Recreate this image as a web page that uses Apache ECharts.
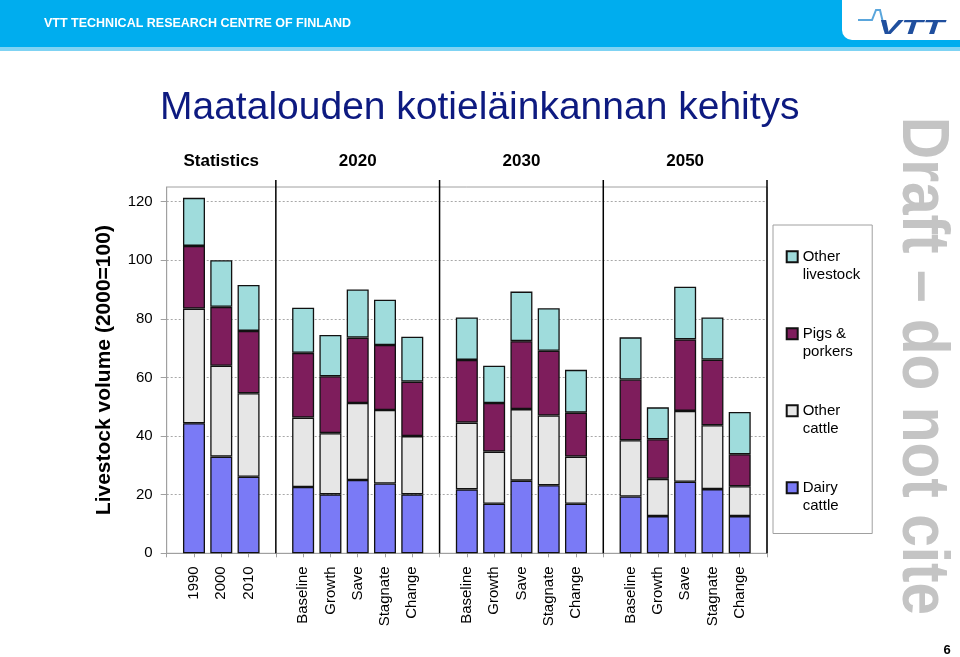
<!DOCTYPE html>
<html><head><meta charset="utf-8">
<script src="https://cdn.jsdelivr.net/npm/echarts@6/dist/echarts.min.js"></script>
<style>html,body{margin:0;padding:0;background:#fff}#c{width:960px;height:657px}</style>
</head><body><div id="c"></div>
<script>
// ---- data ----
const categories = ['', '1990', '2000', '2010', '',
  'Baseline', 'Growth', 'Save', 'Stagnate', 'Change', '',
  'Baseline', 'Growth', 'Save', 'Stagnate', 'Change', '',
  'Baseline', 'Growth', 'Save', 'Stagnate', 'Change', ''];
const dairyCattle    = [null, 44.4, 33.0, 26.1, null, 22.6, 20.1, 25.0, 23.8, 20.1, null, 21.8, 16.9, 24.8, 23.2, 16.9, null, 19.4, 12.7, 24.4, 21.9, 12.7, null];
const otherCattle    = [null, 39.1, 31.0, 28.5, null, 23.7, 20.9, 26.3, 25.1, 19.9, null, 22.8, 17.8, 24.4, 23.8, 16.1, null, 19.2, 12.7, 24.2, 21.8, 10.2, null];
const pigsPorkers    = [null, 21.4, 20.1, 21.3, null, 22.1, 19.4, 22.3, 22.2, 18.6, null, 21.4, 16.6, 23.2, 22.1, 15.0, null, 20.7, 13.5, 24.4, 22.4, 10.9, null];
const otherLivestock = [null, 16.4, 15.9, 15.7, null, 15.4, 14.1, 16.4, 15.4, 15.3, null, 14.5, 12.7, 16.9, 14.5, 14.6, null, 14.4, 10.9, 18.0, 14.4, 14.4, null];
const seriesNames = ['Dairy cattle', 'Other cattle', 'Pigs & porkers', 'Other livestock'];
const legendOrder = ['Other livestock', 'Pigs & porkers', 'Other cattle', 'Dairy cattle'];
const legendLabels = {'Other livestock': 'Other\nlivestock', 'Pigs & porkers': 'Pigs &\nporkers', 'Other cattle': 'Other\ncattle', 'Dairy cattle': 'Dairy\ncattle'};
const yTickLabels = [0, 20, 40, 60, 80, 100, 120];
const groupLabels = ['Statistics', '2020', '2030', '2050'];
const groupCenterIdx = [2, 7, 13, 19];
const separatorIdx = [4, 10, 16, 22];
const titleText = 'Maatalouden kotieläinkannan kehitys';
const yAxisTitle = 'Livestock volume (2000=100)';

// ---- styles ----
const FONT = 'Liberation Sans, Arial, sans-serif';
const colors = ['#7a7af6', '#e6e6e6', '#7e1d5c', '#9fdcdc'];
const seriesData = [dairyCattle, otherCattle, pigsPorkers, otherLivestock];

const chart = echarts.init(document.getElementById('c'), null, {renderer: 'canvas'});

const option = {
  animation: false,
  textStyle: {fontFamily: FONT},
  title: {
    text: titleText, left: 155, top: 84,
    textStyle: {fontFamily: FONT, fontSize: 39, fontWeight: 'normal', color: '#0d1a80'}
  },
  grid: {left: 166.7, right: 193, top: 187, bottom: 103.7, show: true, borderColor: '#a0a0a0', borderWidth: 1, containLabel: false},
  legend: {
    orient: 'vertical', left: 773, top: 225,
    data: legendOrder,
    icon: 'rect', itemWidth: 11, itemHeight: 11, itemGap: 23,
    padding: [4.7, 12, 18.8, 12.7],
    borderColor: '#a0a0a0', borderWidth: 1,
    formatter: n => ' \n' + legendLabels[n],
    textStyle: {fontFamily: FONT, fontSize: 15, lineHeight: 18, color: '#000'},
    selectedMode: false
  },
  xAxis: {
    type: 'category', data: categories, boundaryGap: false,
    axisLine: {lineStyle: {color: '#a0a0a0', width: 1}},
    axisTick: {show: true, length: 4, interval: 0, lineStyle: {color: '#a0a0a0'}},
    axisLabel: {interval: 0, rotate: 90, fontSize: 15, color: '#000', margin: 13, fontFamily: FONT},
    splitLine: {show: false}
  },
  yAxis: {
    type: 'value', min: 0, max: 125, interval: 20,
    name: yAxisTitle, nameLocation: 'middle', nameRotate: 90, nameGap: 52,
    nameTextStyle: {fontFamily: FONT, fontSize: 21, fontWeight: 'bold', color: '#000'},
    axisLine: {show: true, lineStyle: {color: '#a0a0a0'}},
    axisTick: {show: true, length: 6, customValues: yTickLabels, lineStyle: {color: '#a0a0a0'}},
    axisLabel: {fontSize: 15, color: '#000', margin: 14, fontFamily: FONT,
      formatter: v => (yTickLabels.indexOf(v) >= 0 ? String(v) : '')},
    splitLine: {show: true, lineStyle: {color: '#a8a8a8', type: [2, 2], width: 1}}
  },
  series: seriesNames.map((name, i) => ({
    name: name, type: 'bar', stack: 'total', data: seriesData[i],
    barWidth: 22,
    itemStyle: {color: colors[i], borderColor: '#111', borderWidth: 1.3},
    emphasis: {disabled: true}
  }))
};
chart.setOption(option);

// decorations built from axis positions
const g = [];
// header band
g.push({type: 'rect', shape: {x: 0, y: 0, width: 960, height: 47}, style: {fill: '#00adee'}, z: 0});
g.push({type: 'rect', shape: {x: 0, y: 47, width: 960, height: 4}, style: {fill: '#7fd3f3'}, z: 0});
g.push({type: 'rect', shape: {x: 842, y: -10, width: 130, height: 50, r: [0, 0, 0, 10]}, style: {fill: '#fff'}, z: 1});
g.push({type: 'text', x: 44, y: 24, style: {text: 'VTT TECHNICAL RESEARCH CENTRE OF FINLAND', fill: '#fff', font: 'bold 12.5px ' + FONT, verticalAlign: 'middle'}, z: 2});
// VTT logo
g.push({type: 'polyline', shape: {points: [[858, 20], [872, 20], [876, 10], [880, 10], [885, 31]]}, style: {stroke: '#5aa6dc', lineWidth: 2, fill: null}, z: 2});
g.push({type: 'text', x: 878, y: 28, scaleX: 1.75, style: {text: 'VTT', fill: '#1f4f9e', font: 'italic bold 20px ' + FONT, verticalAlign: 'middle'}, z: 2});
// group labels
groupLabels.forEach((t, i) => {
  const p = chart.convertToPixel({xAxisIndex: 0}, groupCenterIdx[i]);
  g.push({type: 'text', x: p, y: 161, style: {text: t, fill: '#000', font: 'bold 17px ' + FONT, align: 'center', verticalAlign: 'middle'}});
});
// group separators
const y0 = chart.convertToPixel({yAxisIndex: 0}, 0);
separatorIdx.forEach(idx => {
  const p = chart.convertToPixel({xAxisIndex: 0}, idx);
  g.push({type: 'line', shape: {x1: p, y1: 180, x2: p, y2: y0}, style: {stroke: '#000', lineWidth: 1.5}, z: 50});
});
// draft watermark
g.push({type: 'text', x: 921, y: 366, rotation: -Math.PI / 2, scaleX: 0.875,
  style: {text: 'Draft – do not cite', fill: '#c4c4c4', font: 'bold 67px ' + FONT, align: 'center', verticalAlign: 'middle'}});
// page number
g.push({type: 'text', x: 947, y: 650, style: {text: '6', fill: '#000', font: 'bold 13px ' + FONT, align: 'center', verticalAlign: 'middle'}});
chart.setOption({graphic: g});
</script>
</body></html>
